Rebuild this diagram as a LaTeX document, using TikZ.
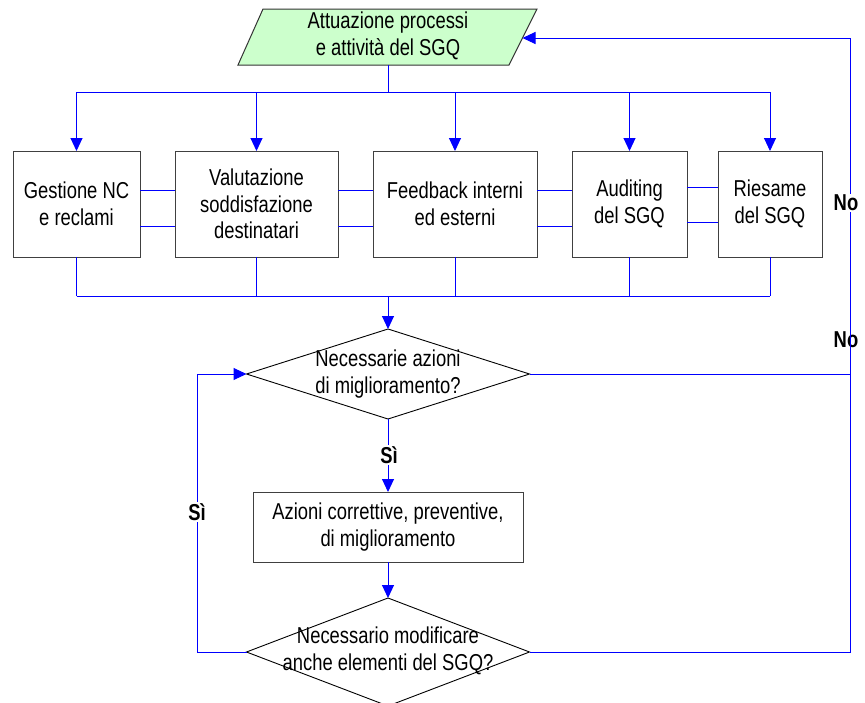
\documentclass[tikz,border=0pt]{standalone}
\usepackage{fontspec}
\setmainfont{Liberation Sans}[FakeStretch=0.8]
\usetikzlibrary{arrows.meta,shapes.geometric}
\definecolor{procfill}{HTML}{CCFFCC}
\begin{document}
\begin{tikzpicture}[x=1pt,y=-1pt,
  flow/.style={draw=blue, line width=1pt},
  arr/.style={flow, -{Triangle[length=13pt,width=12pt]}},
  body/.style={font=\fontsize{23}{26.5}\selectfont},
  box/.style={body, draw=black!75, line width=1pt, fill=white, rectangle,
    inner sep=0pt, outer sep=0pt, align=center, minimum height=106pt},
  dec/.style={draw=black, line width=0.9pt, diamond, inner sep=0pt,
    outer sep=0pt, minimum width=283pt},
  txt/.style={body, align=center, inner sep=0pt},
  lab/.style={font=\bfseries\fontsize{23}{26}\selectfont, inner sep=1pt},
]
\useasboundingbox (0,0) rectangle (865,702);
\clip (0,0) rectangle (865,702);

% start: process block (parallelogram)
\draw[fill=procfill, draw=black!80, line width=1pt]
  (263,9) -- (537,9) -- (509,65) -- (238,65) -- cycle;
\node[txt] (act) at (388,36) {Attuazione processi\\e attività del SGQ};
\coordinate (actB) at (388,65);
\coordinate (actR) at (522.5,38);

% the five monitoring activities
\node[box, minimum width=127pt] (b1) at (76.5,204) {Gestione NC\\e reclami};
\node[box, minimum width=163pt] (b2) at (256.5,204) {Valutazione\\soddisfazione\\destinatari};
\node[box, minimum width=164pt] (b3) at (455,204) {Feedback interni\\ed esterni};
\node[box, minimum width=115pt] (b4) at (629.5,204) {Auditing\\del SGQ};
\node[box, minimum width=104pt] (b5) at (770,204) {Riesame\\del SGQ};

% decisions and actions
\node[dec, minimum height=90pt] (d1) at (388,374) {};
\node[txt] (d1t) at (388,374) {Necessarie azioni\\di miglioramento?};
\node[box, minimum width=270pt, minimum height=70pt] (b6) at (388,527)
  {Azioni correttive, preventive,\\di miglioramento};
\node[dec, minimum height=108pt] (d2) at (388,652) {};
\node[txt] (d2t) at (388,651) {Necessario modificare\\anche elementi del SGQ?};

\coordinate (dist) at (388,92);
\coordinate (coll) at (388,296);
\coordinate (rx) at (850,38);
\coordinate (lx) at (197,374);

\node[lab] (no2) at (846,340) {No};

% distribution to the activities
\draw[flow] (actB) -- (dist);
\draw[flow] (b1.north |- dist) -- (b5.north |- dist);
\foreach \b in {b1,b2,b3,b4,b5}
  \draw[arr] (\b.north |- dist) -- (\b.north);

% links between neighbouring activities
\draw[flow] (b1.east |- 0,190) -- (b2.west |- 0,190);
\draw[flow] (b1.east |- 0,226) -- (b2.west |- 0,226);
\draw[flow] (b2.east |- 0,190) -- (b3.west |- 0,190);
\draw[flow] (b2.east |- 0,226) -- (b3.west |- 0,226);
\draw[flow] (b3.east |- 0,190) -- (b4.west |- 0,190);
\draw[flow] (b3.east |- 0,226) -- (b4.west |- 0,226);
\draw[flow] (b4.east |- 0,187) -- (b5.west |- 0,187);
\draw[flow] (b4.east |- 0,222) -- (b5.west |- 0,222);

% collection into the first decision
\foreach \b in {b1,b2,b3,b4,b5}
  \draw[flow] (\b.south) -- (\b.south |- coll);
\draw[flow] (b1.south |- coll) -- (b5.south |- coll);
\draw[arr] (coll) -- (d1.north);

% main line down
\draw[arr] (d1.south) -- (b6.north);
\draw[arr] (b6.south) -- (d2.north);

% "No" loops back to the process block
\draw[arr] (d1.east) -- (d1.east -| rx) -- (rx) -- (actR);
\draw[flow] (d2.east) -- (d2.east -| rx) -- (d1.east -| rx);

% "Si" loop back to the first decision
\draw[arr] (d2.west) -- (d2.west -| lx) -- (lx) -- (d1.west);

% branch labels
\node[lab, fill=white] (no1) at (846,203) {No};
\node[lab, fill=white] (si1) at (389,455) {Sì};
\node[lab, fill=white] (si2) at (197,512) {Sì};
\end{tikzpicture}
\end{document}
